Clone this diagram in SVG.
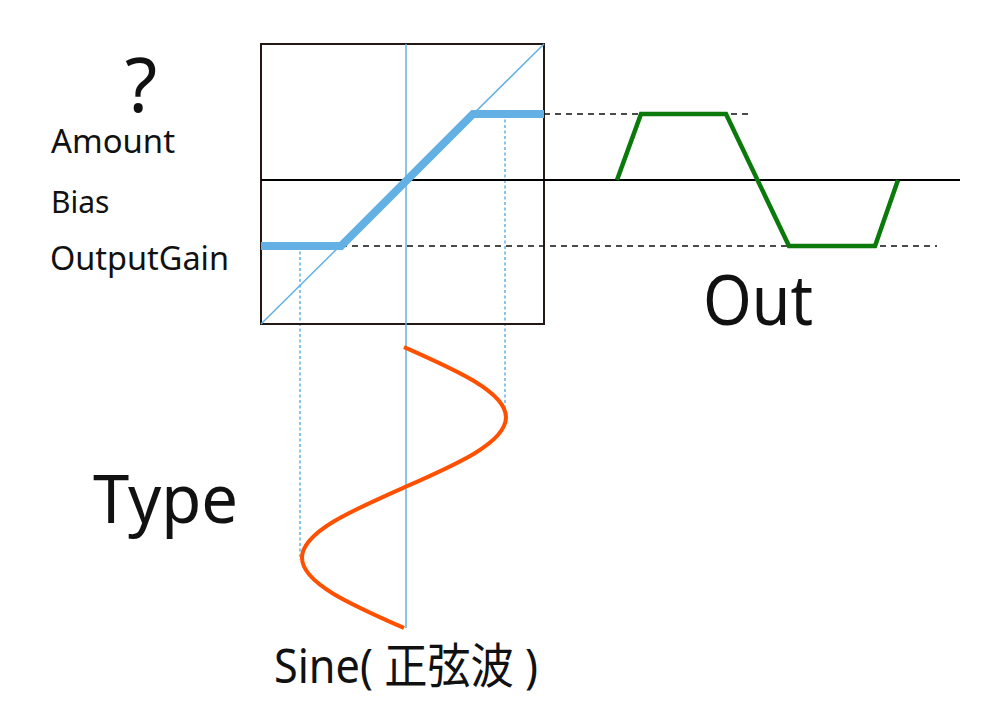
<svg xmlns="http://www.w3.org/2000/svg" width="987" height="723" viewBox="0 0 987 723">
<style>
.lbl{font-family:"Noto Sans","Noto Sans CJK JP",sans-serif;fill:#111}
.blue{stroke:#63b1e4;fill:none}
.dash{stroke:#111;stroke-width:1.5;stroke-dasharray:6 5;fill:none}
.dot{stroke:#63b1e4;stroke-width:1.5;stroke-dasharray:3 2.5;fill:none}
</style>
<rect width="987" height="723" fill="#fff"/>
<g id="labels">
<text class="lbl" x="125" y="112" font-size="74">?</text>
<text class="lbl" x="51" y="153" font-size="33" textLength="124" lengthAdjust="spacingAndGlyphs">Amount</text>
<text class="lbl" x="51" y="213" font-size="30">Bias</text>
<text class="lbl" x="50" y="270" font-size="32" textLength="179" lengthAdjust="spacingAndGlyphs">OutputGain</text>
<text class="lbl" x="93" y="523" font-size="67" textLength="145" lengthAdjust="spacingAndGlyphs">Type</text>
<text class="lbl" x="703" y="325" font-size="70" textLength="110" lengthAdjust="spacingAndGlyphs">Out</text>
<text class="lbl" x="274" y="683" font-size="48" textLength="264" lengthAdjust="spacingAndGlyphs">Sine( 正弦波 )</text>
</g>
<g id="connectors">
<line class="dash" x1="341" y1="246" x2="937" y2="246"/>
<line class="dash" x1="544" y1="114" x2="749" y2="114"/>
<line class="dot" x1="300" y1="246" x2="300" y2="560"/>
<line class="dot" x1="505" y1="114" x2="505" y2="418"/>
</g>
<g id="transfer-box">
<rect x="261" y="44" width="283" height="280" fill="none" stroke="#231815" stroke-width="2"/>
<line x1="261" y1="180" x2="960" y2="180" stroke="#000" stroke-width="2"/>
<line class="blue" x1="406" y1="44" x2="406" y2="628" stroke-width="1.5"/>
<line class="blue" x1="261" y1="324" x2="544" y2="44" stroke-width="1.5"/>
<polyline class="blue" points="261,246 341,246 473,114 544,114" stroke-width="8"/>
</g>
<g id="sine">
<path d="M404,347 C456,370 506,392 506,417.25 C506,442.7 456,464.6 404,487.5 C352,510.4 302,532.3 302,557.75 C302,583.2 352,605.1 404,628" fill="none" stroke="#ff5000" stroke-width="4"/>
</g>
<g id="out">
<polyline points="617,180 641,114 726,114 789,246 875,246 898,180" fill="none" stroke="#0a7a0a" stroke-width="4.5"/>
</g>
</svg>
